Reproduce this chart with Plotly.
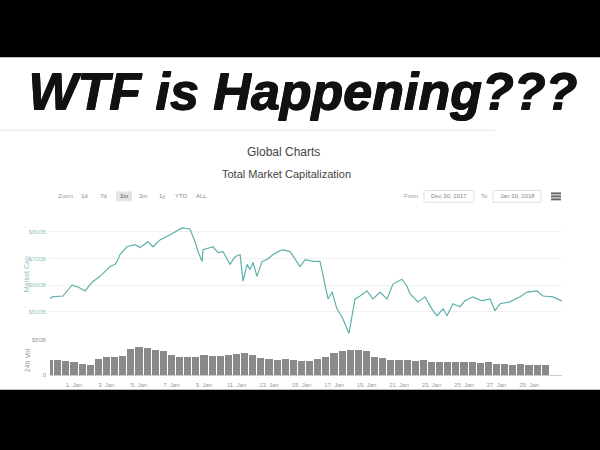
import plotly.graph_objects as go
import pandas as pd

# ---------------- data ----------------
cap_time = [
    "2017-12-30 12:30", "2017-12-30 15:30", "2017-12-31 07:40", "2017-12-31 21:00",
    "2018-01-01 06:00", "2018-01-01 16:20", "2018-01-02 02:40", "2018-01-02 14:24",
    "2018-01-03 05:17", "2018-01-03 12:29", "2018-01-03 15:36", "2018-01-03 19:55",
    "2018-01-04 06:14", "2018-01-04 18:00", "2018-01-05 01:26", "2018-01-05 13:12",
    "2018-01-05 20:38", "2018-01-06 06:58", "2018-01-06 21:50", "2018-01-07 15:36",
    "2018-01-08 03:22", "2018-01-08 10:48", "2018-01-08 15:07", "2018-01-08 21:07",
    "2018-01-08 22:34", "2018-01-09 13:12", "2018-01-09 20:38", "2018-01-10 04:05",
    "2018-01-10 14:24", "2018-01-10 21:50", "2018-01-11 05:17", "2018-01-11 09:36",
    "2018-01-11 15:36", "2018-01-11 19:55", "2018-01-12 00:29", "2018-01-12 06:14",
    "2018-01-12 13:41", "2018-01-12 21:07", "2018-01-13 06:00", "2018-01-13 19:12",
    "2018-01-14 06:58", "2018-01-14 17:17", "2018-01-14 21:50", "2018-01-15 05:17",
    "2018-01-15 17:02", "2018-01-16 03:22", "2018-01-16 07:41", "2018-01-16 15:07",
    "2018-01-16 21:07", "2018-01-17 04:19", "2018-01-17 11:46", "2018-01-17 22:05",
    "2018-01-18 06:58", "2018-01-18 14:24", "2018-01-19 00:43", "2018-01-19 09:36",
    "2018-01-19 19:55", "2018-01-20 06:14", "2018-01-20 15:07", "2018-01-21 04:19",
    "2018-01-21 11:46", "2018-01-21 16:19", "2018-01-22 04:05", "2018-01-22 14:24",
    "2018-01-22 21:50", "2018-01-23 02:10", "2018-01-23 08:10", "2018-01-23 17:02",
    "2018-01-23 22:48", "2018-01-24 07:41", "2018-01-24 18:00", "2018-01-25 01:26",
    "2018-01-25 13:12", "2018-01-26 02:38", "2018-01-26 14:24", "2018-01-26 21:50",
    "2018-01-27 05:17", "2018-01-27 19:55", "2018-01-28 10:48", "2018-01-28 21:07",
    "2018-01-29 11:46", "2018-01-29 20:38", "2018-01-30 11:31", "2018-01-31 00:43",
]
cap_value = [  # total market cap, $ billions
    548, 556, 559, 600, 593, 578, 611, 633, 670, 678, 689, 715,
    744, 752, 741, 763, 744, 770, 789, 815, 811, 763, 726, 689,
    733, 744, 722, 726, 678, 707, 715, 615, 678, 659, 685, 633,
    689, 696, 715, 733, 726, 689, 670, 696, 689, 689, 633, 548,
    574, 511, 481, 419, 548, 559, 578, 548, 574, 548, 604, 622,
    596, 567, 537, 556, 522, 504, 485, 511, 485, 530, 519, 541,
    556, 541, 548, 504, 530, 537, 556, 574, 578, 559, 556, 541,
]
vol_time = pd.date_range("2017-12-30 12:00", periods=62, freq="12h")
vol_value = [  # 24h volume, $ billions
    21, 20, 19, 17, 15, 14, 22, 24, 25, 26, 36, 39, 38, 34, 33, 27,
    25, 24, 25, 27, 26, 26, 28, 29, 30, 28, 23, 22, 21, 22, 20, 19,
    19, 22, 24, 31, 33, 35, 34, 33, 25, 23, 21, 20, 21, 19, 20, 18,
    17, 18, 17, 18, 17, 16, 17, 15, 15, 14, 15, 14, 13, 13,
]
cap_ticks = [500, 600, 700, 800]
cap_tick_text = ["$500B", "$600B", "$700B", "$800B"]
vol_ticks = [0, 50]
vol_tick_text = ["0", "$50B"]
x_ticks = ["2018-01-%02d" % d for d in range(1, 30, 2)]
x_tick_text = ["%d. Jan" % d for d in range(1, 30, 2)]
range_buttons = ["1d", "7d", "1m", "3m", "1y", "YTD", "ALL"]

W, H = 600, 450
px = lambda x: x / W
py = lambda y: 1 - y / H
FONT = "Liberation Sans"

fig = go.Figure()
fig.add_trace(go.Bar(
    x=vol_time, y=vol_value, xaxis="x", yaxis="y2",
    marker=dict(color="#8a8a8a", line=dict(width=0)),
    width=12 * 3600 * 1000 * 0.88, showlegend=False, hoverinfo="skip"))
fig.add_trace(go.Scatter(
    x=cap_time, y=cap_value, xaxis="x", yaxis="y", mode="lines",
    line=dict(color="#5fb0aa", width=1.2), showlegend=False))

x_range = ["2017-12-30 12:30", "2018-01-31 00:45"]

shapes = [
    dict(type="rect", xref="paper", yref="paper", x0=0, x1=1,
         y0=py(392), y1=py(55), fillcolor="white", line=dict(width=0), layer="below"),
    dict(type="line", xref="paper", yref="paper", x0=0, x1=px(495),
         y0=py(129), y1=py(129), line=dict(color="#e6e6e6", width=1)),
    # "1m" selected button background
    dict(type="rect", xref="paper", yref="paper", x0=px(116), x1=px(132),
         y0=py(201), y1=py(191), fillcolor="#e4e4e4", line=dict(width=0)),
    # date input boxes
    dict(type="rect", xref="paper", yref="paper", x0=px(424), x1=px(474),
         y0=py(202), y1=py(190), line=dict(color="#e0e0e0", width=1)),
    dict(type="rect", xref="paper", yref="paper", x0=px(493), x1=px(541),
         y0=py(202), y1=py(190), line=dict(color="#e0e0e0", width=1)),
]
# hamburger menu icon
for yy in (193, 196, 199):
    shapes.append(dict(type="line", xref="paper", yref="paper", x0=px(551), x1=px(561),
                       y0=py(yy), y1=py(yy), line=dict(color="#666666", width=2)))

ann = [
    dict(text="WTF is Happening???", x=px(302), y=py(89),
         font=dict(family=FONT, size=52, color="#111111", weight=900, style="italic",
                   shadow="1px 0px 0px #111111, 0px 1px 0px #111111, 1px 1px 0px #111111")),
    dict(text="Global Charts", x=px(283), y=py(151),
         font=dict(family=FONT, size=12, color="#444444")),
    dict(text="Total Market Capitalization", x=px(286), y=py(173),
         font=dict(family=FONT, size=11, color="#444444")),
    dict(text="Zoom", x=px(65), y=py(196), font=dict(family=FONT, size=6, color="#999999")),
    dict(text="From", x=px(411), y=py(196), font=dict(family=FONT, size=6, color="#999999")),
    dict(text="Dec 30, 2017", x=px(449), y=py(196), font=dict(family=FONT, size=6, color="#888888")),
    dict(text="To", x=px(484), y=py(196), font=dict(family=FONT, size=6, color="#999999")),
    dict(text="Jan 30, 2018", x=px(517), y=py(196), font=dict(family=FONT, size=6, color="#888888")),
    dict(text="Market Cap", x=px(27), y=py(275), textangle=-90,
         font=dict(family=FONT, size=7, color="#8fc4bf")),
    dict(text="24h Vol", x=px(27), y=py(362), textangle=-90,
         font=dict(family=FONT, size=7, color="#999999")),
]
btn_x = [84, 103, 124, 143, 162, 181, 201]
for label, bx in zip(range_buttons, btn_x):
    ann.append(dict(text=label, x=px(bx), y=py(196),
                    font=dict(family=FONT, size=6, color="#444444" if label == "1m" else "#888888")))
for a in ann:
    a.update(xref="paper", yref="paper", showarrow=False, xanchor="center", yanchor="middle")

fig.update_layout(
    width=W, height=H, margin=dict(l=0, r=0, t=0, b=0),
    paper_bgcolor="black", plot_bgcolor="white",
    shapes=shapes, annotations=ann, bargap=0,
    xaxis=dict(domain=[px(50), px(562)], anchor="y2", type="date", range=x_range,
               tickvals=x_ticks, ticktext=x_tick_text, ticks="", showgrid=False,
               showline=True, linecolor="#cccccc", linewidth=1, ticklabelstandoff=4,
               tickfont=dict(family=FONT, size=6, color="#999999")),
    yaxis=dict(domain=[py(338), py(222)], range=[407, 837], tickvals=cap_ticks,
               ticktext=cap_tick_text, showgrid=True, gridcolor="#f0f0f0", zeroline=False,
               tickfont=dict(family=FONT, size=6, color="#9cc9c5"), ticklabelstandoff=3),
    yaxis2=dict(domain=[py(377), py(341)], range=[0, 50], tickvals=vol_ticks,
                ticktext=vol_tick_text, showgrid=True, gridcolor="#f0f0f0", zeroline=False,
                tickfont=dict(family=FONT, size=6, color="#999999"), ticklabelstandoff=3),
)
fig.write_html("out.html", config={"displayModeBar": False},
               post_script="document.body.style.margin='0';")
